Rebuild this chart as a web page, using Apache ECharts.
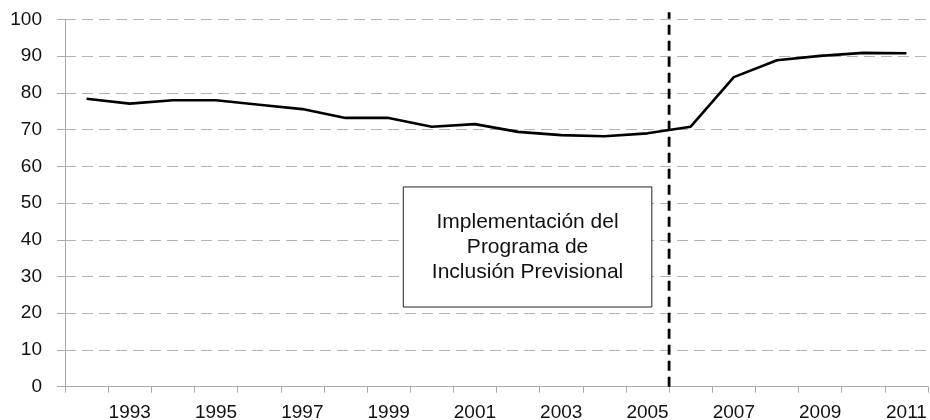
<!DOCTYPE html>
<html>
<head>
<meta charset="utf-8">
<script src="https://cdn.jsdelivr.net/npm/echarts@6/dist/echarts.min.js"></script>
<style>
  html, body { margin: 0; padding: 0; background: #fff; }
  #chart { width: 930px; height: 420px; }
</style>
</head>
<body>
<div id="chart"></div>
<script>
// years on the category axis
const years = ['1992', '1993', '1994', '1995', '1996', '1997', '1998', '1999', '2000', '2001',
  '2002', '2003', '2004', '2005', '2006', '2007', '2008', '2009', '2010', '2011']
// series values
const values = [78.4, 77.1, 78.0, 78.0, 76.8, 75.6, 73.2, 73.2, 70.8, 71.5,
  69.4, 68.5, 68.2, 69.0, 70.8, 84.3, 88.9, 90.1, 90.9, 90.8]
// vertical marker between 2005 and 2006 (index position on the category scale)
const markerPos = [13.5]
const markerRange = [0, 102]
// annotation box, in index / value coordinates
const noteBox = [[7.34, 54.4], [13.1, 21.7]]
const noteText = 'Implementación del\nPrograma de\nInclusión Previsional'

const font = 'Liberation Sans'
const chart = echarts.init(document.getElementById('chart'), null, { renderer: 'canvas' })

chart.setOption({
  animation: false,
  grid: { left: 65, right: 2, top: 19.5, bottom: 33.3, containLabel: false, outerBoundsMode: 'none' },
  xAxis: [
    {
      type: 'category',
      data: years,
      boundaryGap: true,
      axisLine: { onZero: false, lineStyle: { color: '#aaa', width: 1 } },
      axisTick: { show: true, length: 6, interval: 0, lineStyle: { color: '#aaa' } },
      axisLabel: {
        interval: function (index) { return index % 2 === 1 },
        color: '#111',
        fontFamily: font,
        fontSize: 19,
        margin: 17
      },
      splitLine: { show: false }
    },
    {
      type: 'value',
      min: -0.5,
      max: 19.5,
      show: false
    }
  ],
  yAxis: {
    type: 'value',
    min: 0,
    max: 100,
    interval: 10,
    axisLine: { show: true, onZero: false, lineStyle: { color: '#aaa', width: 1 } },
    axisTick: { show: true, length: 8, lineStyle: { color: '#aaa' } },
    axisLabel: { color: '#111', fontFamily: font, fontSize: 19, margin: 23 },
    splitLine: { show: true, lineStyle: { color: '#b4b4b4', width: 1, type: [11, 6] } }
  },
  series: [
    {
      type: 'line',
      data: values,
      symbol: 'none',
      lineStyle: { color: '#000', width: 2.6 },
      z: 5
    },
    {
      type: 'line',
      xAxisIndex: 1,
      data: [[markerPos[0], markerRange[0]], [markerPos[0], markerRange[1]]],
      symbol: 'none',
      clip: false,
      lineStyle: { color: '#000', width: 2.8, type: [10, 6] },
      z: 6,
      markArea: {
        silent: true,
        itemStyle: { color: '#fff', borderColor: '#222', borderWidth: 1 },
        label: {
          show: true,
          position: 'inside',
          color: '#111',
          fontFamily: font,
          fontSize: 21,
          lineHeight: 25,
          padding: [6, 0, 0, 0],
          align: 'center',
          verticalAlign: 'middle'
        },
        data: [[
          { name: noteText, coord: noteBox[0] },
          { coord: noteBox[1] }
        ]]
      }
    }
  ]
})
</script>
</body>
</html>
